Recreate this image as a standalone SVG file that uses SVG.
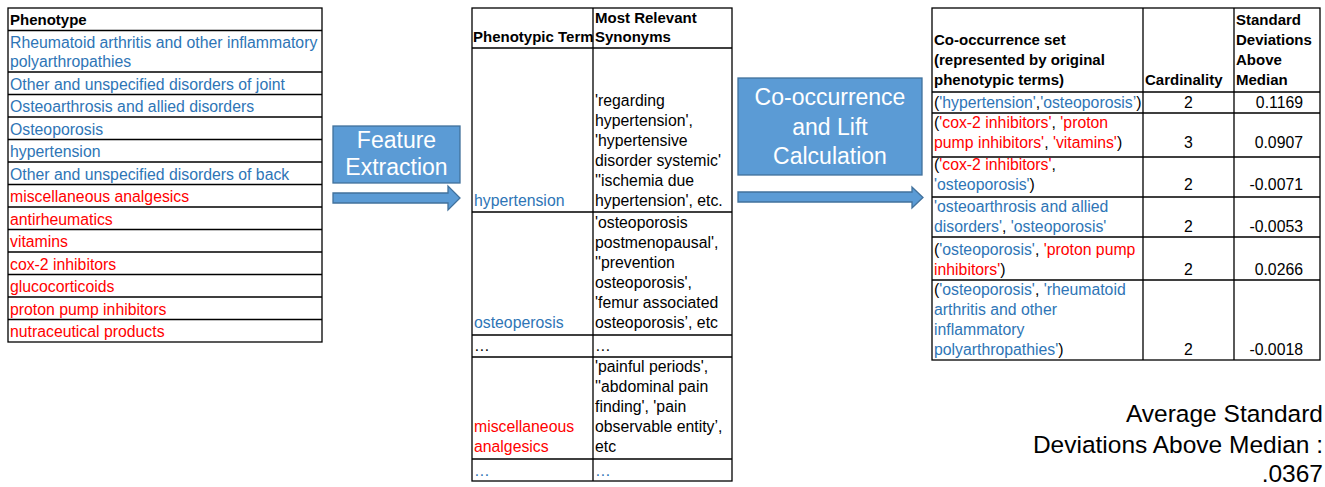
<svg xmlns="http://www.w3.org/2000/svg" width="1325" height="487" viewBox="0 0 1325 487">
<style>
text{font-family:"Liberation Sans",Arial,sans-serif;font-size:15.8px;fill:#000}
.b{font-weight:bold;font-size:15px}
.bl{fill:#2E75B6}
.rd{fill:#FF0000}
.grid{fill:none;stroke:#000;stroke-width:1.3}
.box{fill:#5B9BD5;stroke:#41719C;stroke-width:1.3}
.bt{fill:#fff;font-size:23px;text-anchor:middle}
.num{text-anchor:end}
.mid{text-anchor:middle}
.avg{font-size:24.5px;text-anchor:end}
</style>

<g id="table-phenotype">
<rect class="grid" x="8" y="8" width="314" height="334"/>
<path class="grid" d="M8 30.5H322M8 72H322M8 94.5H322M8 117H322M8 139.5H322M8 162H322M8 184.5H322M8 207H322M8 229.5H322M8 252H322M8 274.5H322M8 297H322M8 319.5H322"/>
<text class="b" x="10" y="25">Phenotype</text>
<text class="bl" x="10" y="48">Rheumatoid arthritis and other inflammatory</text>
<text class="bl" x="10" y="67">polyarthropathies</text>
<text class="bl" x="10" y="89.5">Other and unspecified disorders of joint</text>
<text class="bl" x="10" y="112">Osteoarthrosis and allied disorders</text>
<text class="bl" x="10" y="134.5">Osteoporosis</text>
<text class="bl" x="10" y="157">hypertension</text>
<text class="bl" x="10" y="179.5">Other and unspecified disorders of back</text>
<text class="rd" x="10" y="202">miscellaneous analgesics</text>
<text class="rd" x="10" y="224.5">antirheumatics</text>
<text class="rd" x="10" y="247">vitamins</text>
<text class="rd" x="10" y="269.5">cox-2 inhibitors</text>
<text class="rd" x="10" y="292">glucocorticoids</text>
<text class="rd" x="10" y="314.5">proton pump inhibitors</text>
<text class="rd" x="10" y="337">nutraceutical products</text>
</g>

<g id="box-feature-extraction">
<rect class="box" x="333" y="126" width="127" height="57"/>
<text class="bt" x="396.5" y="148">Feature</text>
<text class="bt" x="396.5" y="175">Extraction</text>
</g>

<g id="table-synonyms">
<rect class="grid" x="472" y="8" width="260" height="473"/>
<path class="grid" d="M593 8V481M472 48H732M472 212H732M472 335H732M472 357H732M472 459H732"/>
<text class="b" x="595" y="23">Most Relevant</text>
<text class="b" x="595" y="42">Synonyms</text>
<text class="b" x="473" y="42">Phenotypic Term</text>
<text class="bl" x="474" y="206">hypertension</text>
<text x="595" y="106">'regarding</text>
<text x="595" y="126">hypertension',</text>
<text x="595" y="146">'hypertensive</text>
<text x="595" y="166">disorder systemic'</text>
<text x="595" y="186">''ischemia due</text>
<text x="595" y="206">hypertension', etc.</text>
<text class="bl" x="474" y="328">osteoperosis</text>
<text x="595" y="228">'osteoporosis</text>
<text x="595" y="248">postmenopausal',</text>
<text x="595" y="268">''prevention</text>
<text x="595" y="288">osteoporosis',</text>
<text x="595" y="308">'femur associated</text>
<text x="595" y="328">osteoporosis’, etc</text>
<text x="474" y="351">…</text>
<text x="595" y="351">…</text>
<text x="595" y="372">'painful periods',</text>
<text x="595" y="392">''abdominal pain</text>
<text x="595" y="412">finding', 'pain</text>
<text x="595" y="432">observable entity’,</text>
<text x="595" y="452">etc</text>
<text class="rd" x="474" y="432">miscellaneous</text>
<text class="rd" x="474" y="452">analgesics</text>
<text class="bl" x="474" y="476">…</text>
<text class="bl" x="595" y="476">…</text>
</g>

<g id="box-cooccurrence">
<rect class="box" x="738" y="78" width="184" height="97"/>
<text class="bt" x="830" y="105">Co-occurrence</text>
<text class="bt" x="830" y="135">and Lift</text>
<text class="bt" x="830" y="164">Calculation</text>
</g>

<g id="table-results">
<rect class="grid" x="932" y="8" width="388" height="352"/>
<path class="grid" d="M1143 8V360M1234 8V360M932 92H1320M932 113H1320M932 157H1320M932 197H1320M932 237H1320M932 280H1320"/>
<text class="b" x="934" y="45">Co-occurrence set</text>
<text class="b" x="934" y="65">(represented by original</text>
<text class="b" x="934" y="85">phenotypic terms)</text>
<text class="b" x="1145" y="85">Cardinality</text>
<text class="b" x="1236" y="25">Standard</text>
<text class="b" x="1236" y="45">Deviations</text>
<text class="b" x="1236" y="65">Above</text>
<text class="b" x="1236" y="85">Median</text>

<text x="934" y="108">(<tspan class="bl">'hypertension'</tspan>,<tspan class="bl">'osteoporosis’</tspan>)</text>
<text class="mid" x="1188.5" y="108">2</text>
<text class="num" x="1303" y="108">0.1169</text>

<text x="934" y="128">(<tspan class="rd">'cox-2 inhibitors'</tspan>, <tspan class="rd">'proton</tspan></text>
<text x="934" y="148"><tspan class="rd">pump inhibitors'</tspan>, <tspan class="rd">'vitamins'</tspan>)</text>
<text class="mid" x="1188.5" y="148">3</text>
<text class="num" x="1303" y="148">0.0907</text>

<text x="934" y="170">(<tspan class="rd">'cox-2 inhibitors'</tspan>,</text>
<text x="934" y="190"><tspan class="bl">'osteoporosis'</tspan>)</text>
<text class="mid" x="1188.5" y="190">2</text>
<text class="num" x="1303" y="190">-0.0071</text>

<text class="bl" x="934" y="212">'osteoarthrosis and allied</text>
<text x="934" y="232"><tspan class="bl">disorders'</tspan>, <tspan class="bl">'osteoporosis'</tspan></text>
<text class="mid" x="1188.5" y="232">2</text>
<text class="num" x="1303" y="232">-0.0053</text>

<text x="934" y="255">(<tspan class="bl">'osteoporosis'</tspan>, <tspan class="rd">'proton pump</tspan></text>
<text x="934" y="275"><tspan class="rd">inhibitors'</tspan>)</text>
<text class="mid" x="1188.5" y="275">2</text>
<text class="num" x="1303" y="275">0.0266</text>

<text x="934" y="295">(<tspan class="bl">'osteoporosis'</tspan>, <tspan class="bl">'rheumatoid</tspan></text>
<text class="bl" x="934" y="315">arthritis and other</text>
<text class="bl" x="934" y="335">inflammatory</text>
<text x="934" y="355"><tspan class="bl">polyarthropathies'</tspan>)</text>
<text class="mid" x="1188.5" y="355">2</text>
<text class="num" x="1303" y="355">-0.0018</text>
</g>

<g id="average-note">
<text class="avg" x="1323" y="422">Average Standard</text>
<text class="avg" x="1323" y="453">Deviations Above Median :</text>
<text class="avg" x="1323" y="482">.0367</text>
</g>

<g id="connectors">
<polygon class="box" points="333,193 448,193 448,186 460,198 448,210 448,203 333,203"/>
<polygon class="box" points="738,192 912,192 912,187 923,197.5 912,208 912,202 738,202"/>
</g>
</svg>
